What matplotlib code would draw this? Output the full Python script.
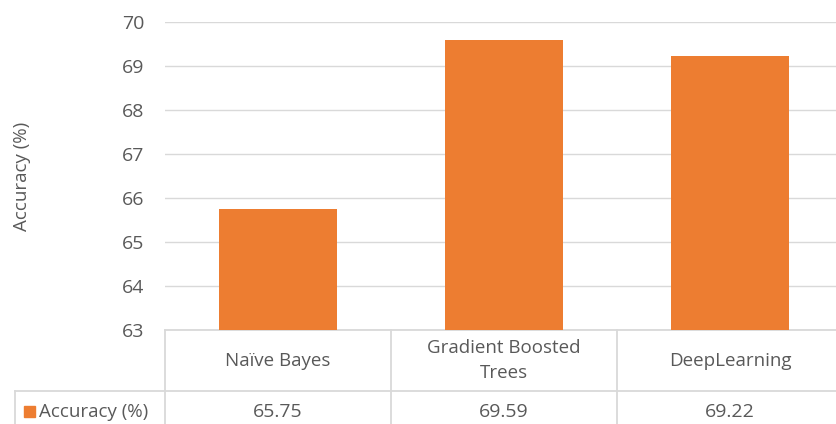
import matplotlib.pyplot as plt
from matplotlib.patches import Rectangle
from matplotlib.transforms import blended_transform_factory

categories = ["Naïve Bayes", "Gradient Boosted\nTrees", "DeepLearning"]
accuracy = [65.75, 69.59, 69.22]
series_name = "Accuracy (%)"
yticks = [63, 64, 65, 66, 67, 68, 69, 70]

BAR = "#ED7D31"
GRID = "#D9D9D9"
TXT = "#595959"
FS = 13.5

plt.rcParams["font.family"] = ["Open Sans", "DejaVu Sans"]

fig = plt.figure(figsize=(8.37, 4.24), dpi=100)
ax = fig.add_axes([165 / 837, 1 - 330 / 424, 678 / 837, 308 / 424])

x = list(range(len(categories)))
ax.bar(x, [v - 63 for v in accuracy], bottom=63, width=0.52, color=BAR, zorder=3)
ax.set_xlim(-0.5, len(categories) - 0.5)
ax.set_ylim(63, 70)
ax.set_yticks(yticks)
ax.set_xticks([])
ax.yaxis.grid(True, color=GRID, linewidth=1)
ax.set_axisbelow(True)
for s in ax.spines.values():
    s.set_visible(False)
ax.tick_params(axis="y", length=0, pad=15, labelsize=FS + 0.5, labelcolor=TXT)
fig.text(22 / 837, 1 - 176 / 424, "Accuracy (%)", rotation=90, ha="center", va="center",
         fontsize=FS, color=TXT)

# data table below the axis
tr = blended_transform_factory(ax.transData, ax.transAxes)
row1 = -61 / 308
row2 = -100 / 308
kw = dict(color=GRID, linewidth=1.3, clip_on=False)
ax.plot([-0.5, 2.5], [0, 0], transform=tr, **kw)
x_left = -0.5 - 150 / 226
ax.plot([x_left, 2.5], [row1, row1], transform=tr, **kw)
for b in [-0.5, 0.5, 1.5]:
    ax.plot([b, b], [0, row2], transform=tr, **kw)
ax.plot([x_left, x_left], [row1, row2], transform=tr, **kw)

for i, (cat, v) in enumerate(zip(categories, accuracy)):
    ax.text(i, row1 / 2, cat, transform=tr, ha="center", va="center",
            fontsize=FS, color=TXT, linespacing=1.45)
    ax.text(i, (row1 + row2) / 2 - 0.005, f"{v:.2f}", transform=tr, ha="center",
            va="center", fontsize=FS + 0.5, color=TXT)

ax.add_patch(Rectangle((x_left + 9 / 226, (row1 + row2) / 2 - 0.022), 11 / 226, 0.036,
                       transform=tr, color=BAR, clip_on=False))
ax.text(x_left + 24 / 226, (row1 + row2) / 2 - 0.005, series_name, transform=tr,
        ha="left", va="center", fontsize=FS, color=TXT)

fig.savefig("out.png", dpi=100, facecolor="white")
